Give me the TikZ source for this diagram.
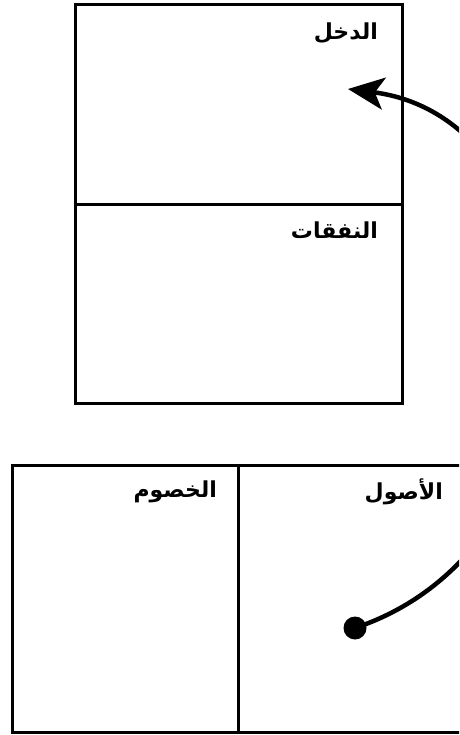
\documentclass[tikz,border=0pt]{standalone}
\usepackage{fontspec}
\newfontfamily\arabicfont[Script=Arabic]{DejaVu Sans Bold}
\TeXXeTstate=1
\usetikzlibrary{arrows.meta}
\tikzset{
  box/.style={line width=3pt, line join=miter},
  lbl/.style={anchor=east, inner sep=0pt, font=\arabicfont\fontsize{22}{26}\selectfont},
  flow/.style={line width=4.5pt, -{Stealth[length=36pt,width=32pt,inset=9pt]}},
  dotn/.style={circle, fill=black, minimum size=23pt, inner sep=0pt}
}
\begin{document}
\begin{tikzpicture}[x=1pt,y=-1pt]
\useasboundingbox (0,0) rectangle (459,735);
\clip (0,0) rectangle (459,735);
% top box
\draw[box] (75,5) rectangle (402,403);
\draw[box] (75,205) -- (402,205);
\node[lbl] (income) at (378,33) {\beginR الدخل\endR};
\node[lbl] (expenses) at (378,230) {\beginR النفقات\endR};
% bottom box
\draw[box] (12,465) rectangle (480,732);
\draw[box] (238,465) -- (238,732);
\node[lbl] (liab) at (217,492) {\beginR الخصوم\endR};
\node[lbl] (assets) at (443,492) {\beginR الأصول\endR};
% connector
\node[dotn] (dot) at (355,628) {};
\coordinate (tip) at (348,89);
\draw[flow] (dot.center) .. controls (616,540) and (590,120) .. (tip);
\end{tikzpicture}
\end{document}
